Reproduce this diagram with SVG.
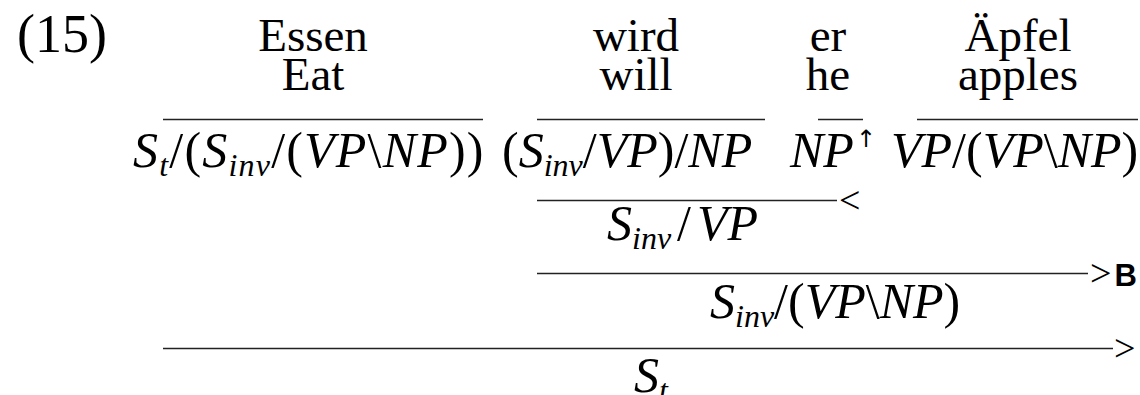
<svg xmlns="http://www.w3.org/2000/svg" width="1140" height="395" viewBox="0 0 1140 395">
<style>
text{font-family:"Liberation Serif","Times New Roman",serif;fill:#000}
.w{font-size:47px;text-anchor:middle}
.c{font-size:50px;font-style:italic}
.r{font-style:normal}
.sub{font-size:32px}
.num{font-size:54px}
.rule{font-size:38px}
.rb{font-family:"Liberation Sans",Arial,sans-serif;font-size:31px;font-weight:bold}
.arr{font-family:"DejaVu Sans","Liberation Sans",sans-serif;font-size:24px;font-style:normal}
line{stroke:#222;stroke-width:1.5}
</style>
<text class="num" x="17" y="52">(15)</text>
<g id="essen"><text class="w" x="313" y="51">Essen</text><text class="w" x="313" y="90">Eat</text></g>
<g id="wird"><text class="w" x="636" y="51">wird</text><text class="w" x="636" y="90">will</text></g>
<g id="er"><text class="w" x="828" y="51">er</text><text class="w" x="828" y="90">he</text></g>
<g id="aepfel"><text class="w" x="1018" y="51">Äpfel</text><text class="w" x="1018" y="90">apples</text></g>
<g id="connectors">
<line x1="163" y1="119.5" x2="483" y2="119.5"/>
<line x1="537" y1="119.5" x2="765" y2="119.5"/>
<line x1="818" y1="119.5" x2="863" y2="119.5"/>
<line x1="917" y1="119.5" x2="1138" y2="119.5"/>
<line x1="537" y1="200.5" x2="837" y2="200.5"/>
<line x1="537" y1="273.5" x2="1088" y2="273.5"/>
<line x1="163" y1="348.5" x2="1113" y2="348.5"/>
<text class="rule" x="839" y="213">&lt;</text>
<text class="rule" x="1090" y="286">&gt;<tspan class="rb" dx="3">B</tspan></text>
<text class="rule" x="1114" y="361">&gt;</text>
</g>
<g id="cat-essen"><text class="c" x="133" y="167" letter-spacing="1.2">S<tspan class="sub" dy="9">t</tspan><tspan class="r" dy="-9">/(</tspan>S<tspan class="sub" dy="9">inv</tspan><tspan class="r" dy="-9">/(</tspan>VP<tspan class="r">\</tspan>NP<tspan class="r">))</tspan></text></g>
<g id="cat-wird"><text class="c" x="502" y="167"><tspan class="r">(</tspan>S<tspan class="sub" dy="9">inv</tspan><tspan class="r" dy="-9">/</tspan>VP<tspan class="r">)/</tspan>NP</text></g>
<g id="cat-er"><text class="c" x="790" y="167">NP<tspan class="arr" dx="2" dy="-20">↑</tspan></text></g>
<g id="cat-aepfel"><text class="c" x="891" y="167">VP<tspan class="r">/(</tspan>VP<tspan class="r">\</tspan>NP<tspan class="r">)</tspan></text></g>
<g id="res1"><text class="c" x="607" y="240">S<tspan class="sub" dy="9">inv</tspan><tspan class="r" dx="6" dy="-9">/</tspan><tspan dx="6">VP</tspan></text></g>
<g id="res2"><text class="c" x="710" y="318">S<tspan class="sub" dy="9">inv</tspan><tspan class="r" dy="-9">/(</tspan>VP<tspan class="r">\</tspan>NP<tspan class="r">)</tspan></text></g>
<g id="res3"><text class="c" x="634" y="392">S<tspan class="sub" dy="9">t</tspan></text></g>
</svg>
